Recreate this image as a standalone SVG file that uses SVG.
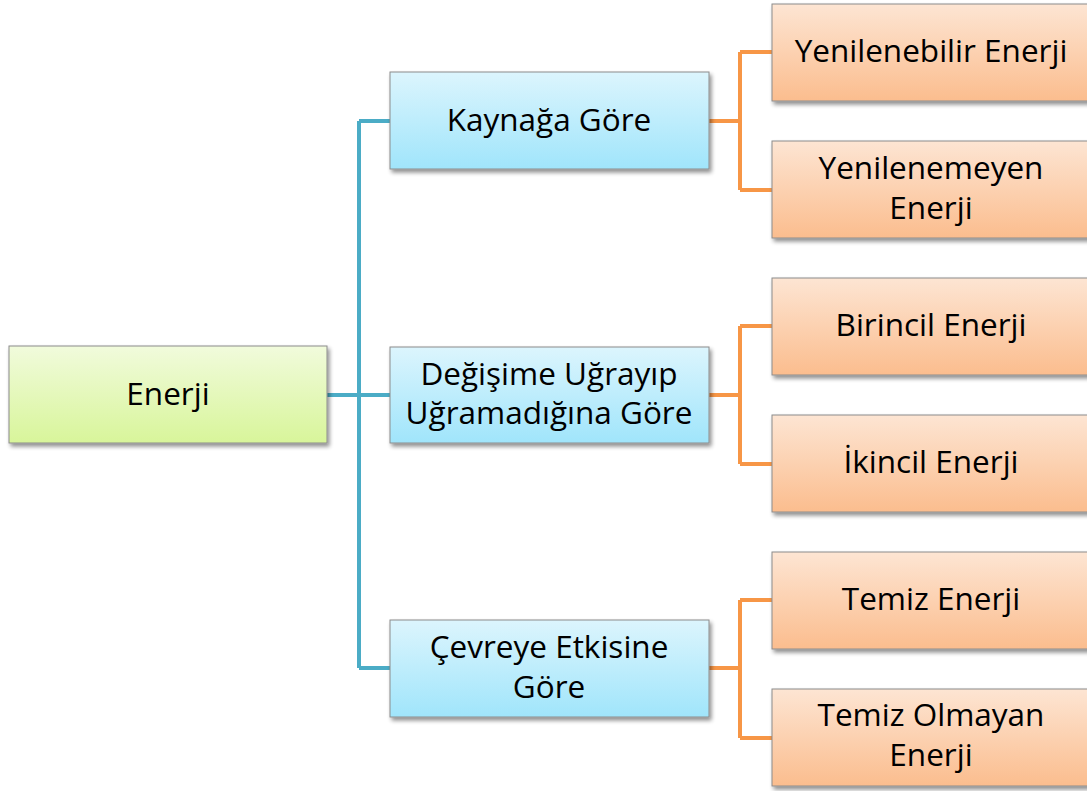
<svg xmlns="http://www.w3.org/2000/svg" width="1087" height="791" viewBox="0 0 1087 791">
<defs>
<linearGradient id="gG" x1="0" y1="0" x2="0" y2="1"><stop offset="0" stop-color="#f1fbdc"/><stop offset="1" stop-color="#d8f59a"/></linearGradient>
<linearGradient id="gB" x1="0" y1="0" x2="0" y2="1"><stop offset="0" stop-color="#dcf5fd"/><stop offset="1" stop-color="#a0e5fb"/></linearGradient>
<linearGradient id="gO" x1="0" y1="0" x2="0" y2="1"><stop offset="0" stop-color="#fde5d3"/><stop offset="1" stop-color="#fbbd8e"/></linearGradient>
<filter id="sh" x="-5%" y="-10%" width="115%" height="130%"><feGaussianBlur in="SourceAlpha" stdDeviation="2"/><feOffset dx="2" dy="3"/><feComponentTransfer><feFuncA type="linear" slope="0.45"/></feComponentTransfer><feMerge><feMergeNode/><feMergeNode in="SourceGraphic"/></feMerge></filter>
</defs>
<style>
.box{stroke:#8c8c8c;stroke-width:1;filter:url(#sh)}
.g{fill:url(#gG)}.b{fill:url(#gB)}.o{fill:url(#gO)}
text{font-family:"Open Sans","Liberation Sans",sans-serif;font-size:31.5px;fill:#000;text-anchor:middle;dominant-baseline:central}
.cb{fill:none;stroke:#4bacc6;stroke-width:4}
.co{fill:none;stroke:#f79646;stroke-width:4}
</style>
<rect width="1087" height="791" fill="#fff"/>
<g id="connectors">
<path class="cb" d="M327,395H390M359,121V668M359,121H390M359,668H390"/>
<path class="co" d="M709,121H740M740,52V190M740,52H772M740,190H772"/>
<path class="co" d="M709,395H740M740,326V464M740,326H772M740,464H772"/>
<path class="co" d="M709,668H740M740,600V738M740,600H772M740,738H772"/>
</g>
<g id="n0"><rect class="box g" x="9" y="346" width="318" height="97"/><text x="168" y="392">Enerji</text></g>
<g id="n1"><rect class="box b" x="390" y="72" width="319" height="97"/><text x="549" y="118">Kaynağa Göre</text></g>
<g id="n2"><rect class="box b" x="390" y="347" width="319" height="96"/><text x="549" y="372">Değişime Uğrayıp</text><text x="549" y="411">Uğramadığına Göre</text></g>
<g id="n3"><rect class="box b" x="390" y="620" width="319" height="97"/><text x="549" y="645">Çevreye Etkisine</text><text x="549" y="685">Göre</text></g>
<g id="n4"><rect class="box o" x="772" y="4" width="330" height="97"/><text x="931" y="49">Yenilenebilir Enerji</text></g>
<g id="n5"><rect class="box o" x="772" y="141" width="330" height="97"/><text x="931" y="166">Yenilenemeyen</text><text x="931" y="206">Enerji</text></g>
<g id="n6"><rect class="box o" x="772" y="278" width="330" height="97"/><text x="931" y="323">Birincil Enerji</text></g>
<g id="n7"><rect class="box o" x="772" y="415" width="330" height="97"/><text x="931" y="460">İkincil Enerji</text></g>
<g id="n8"><rect class="box o" x="772" y="552" width="330" height="97"/><text x="931" y="597">Temiz Enerji</text></g>
<g id="n9"><rect class="box o" x="772" y="689" width="330" height="97"/><text x="931" y="713">Temiz Olmayan</text><text x="931" y="753">Enerji</text></g>
</svg>
